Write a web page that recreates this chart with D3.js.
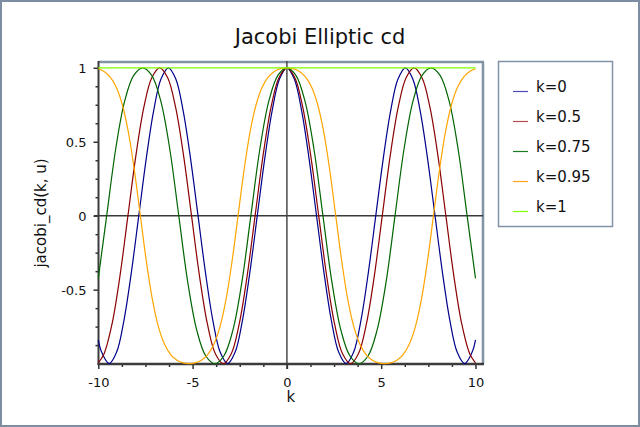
<!DOCTYPE html>
<html><head><meta charset="utf-8">
<script src="https://cdn.jsdelivr.net/npm/d3@7"></script>
<style>body{margin:0;background:#fff}svg{display:block}</style>
</head><body>
<svg id="c" width="640" height="427"></svg>
<script>
const title = "Jacobi Elliptic cd";
const xLabel = "k";
const yLabel = "jacobi_cd(k, u)";
const seriesNames = ["k=0", "k=0.5", "k=0.75", "k=0.95", "k=1"];
const seriesColors = ["#00008b", "#8b0000", "#006400", "#ffa500", "#7fff00"];
const legendColors = ["#4b4bb8", "#b84b4b", "#1e7a1e", "#ffa31a", "#80ff00"];
const xTickValues = [-10, -5, 0, 5, 10];
const xTickLabels = ["-10", "-5", "0", "5", "10"];
const xMinorTicks = [-8.75, -7.5, -6.25, -3.75, -2.5, -1.25, 1.25, 2.5, 3.75, 6.25, 7.5, 8.75];
const yTickValues = [-0.5, 0, 0.5, 1];
const yTickLabels = ["-0.5", "0", "0.5", "1"];
const yMinorTicks = [-0.875, -0.75, -0.625, -0.375, -0.25, -0.125, 0.125, 0.25, 0.375, 0.625, 0.75, 0.875];

// k = 0
const x0 = [-10, -9.8175, -9.4248, -9.0321, -8.6394, -8.2467, -7.854, -7.4613, -7.0686, -6.6759, -6.2832, -5.8905, -5.4978, -5.1051, -4.7124, -4.3197, -3.927, -3.5343, -3.1416, -2.7489, -2.3562, -1.9635, -1.5708, -1.1781, -0.7854, -0.3927, 0, 0.3927, 0.7854, 1.1781, 1.5708, 1.9635, 2.3562, 2.7489, 3.1416, 3.5343, 3.927, 4.3197, 4.7124, 5.1051, 5.4978, 5.8905, 6.2832, 6.6759, 7.0686, 7.4613, 7.854, 8.2467, 8.6394, 9.0321, 9.4248, 9.8175, 10];
const y0 = [-0.8391, -0.9239, -1, -0.9239, -0.7071, -0.3827, 0, 0.3827, 0.7071, 0.9239, 1, 0.9239, 0.7071, 0.3827, 0, -0.3827, -0.7071, -0.9239, -1, -0.9239, -0.7071, -0.3827, 0, 0.3827, 0.7071, 0.9239, 1, 0.9239, 0.7071, 0.3827, 0, -0.3827, -0.7071, -0.9239, -1, -0.9239, -0.7071, -0.3827, 0, 0.3827, 0.7071, 0.9239, 1, 0.9239, 0.7071, 0.3827, 0, -0.3827, -0.7071, -0.9239, -1, -0.9239, -0.8391];
// k = 0.5
const x05 = [-10, -9.6931, -9.2716, -8.8502, -8.4288, -8.0073, -7.5859, -7.1644, -6.743, -6.3216, -5.9001, -5.4787, -5.0573, -4.6358, -4.2144, -3.7929, -3.3715, -2.9501, -2.5286, -2.1072, -1.6858, -1.2643, -0.8429, -0.4214, 0, 0.4214, 0.8429, 1.2643, 1.6858, 2.1072, 2.5286, 2.9501, 3.3715, 3.7929, 4.2144, 4.6358, 5.0573, 5.4787, 5.9001, 6.3216, 6.743, 7.1644, 7.5859, 8.0073, 8.4288, 8.8502, 9.2716, 9.6931, 10];
const y05 = [-0.9951, -0.9332, -0.7321, -0.4063, 0, 0.4063, 0.7321, 0.9332, 1, 0.9332, 0.7321, 0.4063, 0, -0.4063, -0.7321, -0.9332, -1, -0.9332, -0.7321, -0.4063, 0, 0.4063, 0.7321, 0.9332, 1, 0.9332, 0.7321, 0.4063, 0, -0.4063, -0.7321, -0.9332, -1, -0.9332, -0.7321, -0.4063, 0, 0.4063, 0.7321, 0.9332, 1, 0.9332, 0.7321, 0.4063, 0, -0.4063, -0.7321, -0.9332, -0.9951];
// k = 0.75
const x075 = [-10, -9.5549, -9.0772, -8.5995, -8.1217, -7.644, -7.1662, -6.6885, -6.2107, -5.733, -5.2552, -4.7775, -4.2997, -3.822, -3.3442, -2.8665, -2.3887, -1.911, -1.4332, -0.9555, -0.4777, 0, 0.4777, 0.9555, 1.4332, 1.911, 2.3887, 2.8665, 3.3442, 3.822, 4.2997, 4.7775, 5.2552, 5.733, 6.2107, 6.6885, 7.1662, 7.644, 8.1217, 8.5995, 9.0772, 9.5549, 10];
const y075 = [-0.4234, 0, 0.4511, 0.7758, 0.9484, 1, 0.9484, 0.7758, 0.4511, 0, -0.4511, -0.7758, -0.9484, -1, -0.9484, -0.7758, -0.4511, 0, 0.4511, 0.7758, 0.9484, 1, 0.9484, 0.7758, 0.4511, 0, -0.4511, -0.7758, -0.9484, -1, -0.9484, -0.7758, -0.4511, 0, 0.4511, 0.7758, 0.9484, 1, 0.9484, 0.7758, 0.4511, 0, -0.4234];
// k = 0.95
const x095 = [-10, -9.7125, -9.3888, -9.065, -8.7413, -8.4175, -8.0938, -7.77, -7.4463, -7.1225, -6.7988, -6.475, -6.1513, -5.8275, -5.5038, -5.18, -4.8563, -4.5325, -4.2088, -3.885, -3.5613, -3.2375, -2.9138, -2.59, -2.2663, -1.9425, -1.6188, -1.295, -0.9713, -0.6475, -0.3238, 0, 0.3238, 0.6475, 0.9713, 1.295, 1.6188, 1.9425, 2.2663, 2.59, 2.9138, 3.2375, 3.5613, 3.885, 4.2088, 4.5325, 4.8563, 5.18, 5.5038, 5.8275, 6.1513, 6.475, 6.7988, 7.1225, 7.4463, 7.77, 8.0938, 8.4175, 8.7413, 9.065, 9.3888, 9.7125, 10];
const y095 = [0.9934, 0.977, 0.9403, 0.873, 0.7571, 0.5732, 0.3134, 0, -0.3134, -0.5732, -0.7571, -0.873, -0.9403, -0.977, -0.9947, -1, -0.9947, -0.977, -0.9403, -0.873, -0.7571, -0.5732, -0.3134, 0, 0.3134, 0.5732, 0.7571, 0.873, 0.9403, 0.977, 0.9947, 1, 0.9947, 0.977, 0.9403, 0.873, 0.7571, 0.5732, 0.3134, 0, -0.3134, -0.5732, -0.7571, -0.873, -0.9403, -0.977, -0.9947, -1, -0.9947, -0.977, -0.9403, -0.873, -0.7571, -0.5732, -0.3134, 0, 0.3134, 0.5732, 0.7571, 0.873, 0.9403, 0.977, 0.9934];
// k = 1
const x1 = [-10, 10];
const y1 = [1, 1];

const seriesX = [x0, x05, x075, x095, x1];
const seriesY = [y0, y05, y075, y095, y1];

const FONT = "Verdana, 'DejaVu Sans', sans-serif";
const svg = d3.select("#c");
const W = 640, H = 427;
const plot = {left: 98.5, right: 483, top: 62, bottom: 364};

const x = d3.scaleLinear().domain([-10, 10]).range([98.3, 475.5]);
const y = d3.scaleLinear().domain([-1, 1]).range([363.6, 67.8]);

svg.append("rect").attr("x", 0).attr("y", 0).attr("width", W).attr("height", H).attr("fill", "#fff");
svg.append("rect").attr("x", 1).attr("y", 1).attr("width", W - 2).attr("height", H - 2)
  .attr("fill", "none").attr("stroke", "#7d8ea3").attr("stroke-width", 2);

svg.append("text").attr("x", 320).attr("y", 44).attr("text-anchor", "middle")
  .attr("font-family", FONT).attr("font-size", 21).attr("fill", "#111").text(title);

// plot window frame (top & right)
svg.append("line").attr("x1", plot.left).attr("x2", plot.right + 1).attr("y1", plot.top).attr("y2", plot.top)
  .attr("stroke", "#8293a6").attr("stroke-width", 2.5);
svg.append("line").attr("x1", plot.right).attr("x2", plot.right).attr("y1", plot.top).attr("y2", plot.bottom)
  .attr("stroke", "#8293a6").attr("stroke-width", 2.5);

// zero lines
svg.append("line").attr("x1", 94).attr("x2", plot.right).attr("y1", y(0)).attr("y2", y(0))
  .attr("stroke", "#3a3a3a").attr("stroke-width", 1.5);
svg.append("line").attr("x1", x(0)).attr("x2", x(0)).attr("y1", plot.top - 1).attr("y2", plot.bottom + 5)
  .attr("stroke", "#4a4a4a").attr("stroke-width", 1.5);

// axes with d3
const gx = svg.append("g").attr("transform", `translate(0,${plot.bottom})`)
  .call(d3.axisBottom(x).tickValues(xTickValues).tickSize(5).tickPadding(6)
    .tickFormat((d, i) => xTickLabels[i]));
const gxm = svg.append("g").attr("transform", `translate(0,${plot.bottom})`)
  .call(d3.axisBottom(x).tickValues(xMinorTicks).tickSize(3).tickFormat(""));
const gy = svg.append("g").attr("transform", `translate(${plot.left},0)`)
  .call(d3.axisLeft(y).tickValues(yTickValues).tickSize(5).tickPadding(7)
    .tickFormat((d, i) => yTickLabels[i]));
const gym = svg.append("g").attr("transform", `translate(${plot.left},0)`)
  .call(d3.axisLeft(y).tickValues(yMinorTicks).tickSize(3).tickFormat(""));
[gx, gxm, gy, gym].forEach(g => {
  g.select(".domain").remove();
  g.selectAll(".tick line").attr("stroke", "#333").attr("stroke-width", 1.5);
  g.selectAll("text").attr("font-family", FONT).attr("font-size", 13).attr("fill", "#111");
});
gx.selectAll("text").attr("dy", "0.9em");
gy.selectAll("text").attr("dy", "0.36em");

// axis lines
svg.append("line").attr("x1", plot.left).attr("x2", plot.left).attr("y1", plot.top - 1).attr("y2", plot.bottom + 1)
  .attr("stroke", "#3c3c3c").attr("stroke-width", 2);
svg.append("line").attr("x1", plot.left - 1).attr("x2", plot.right + 1).attr("y1", plot.bottom).attr("y2", plot.bottom)
  .attr("stroke", "#3c3c3c").attr("stroke-width", 2.5);

// axis labels
svg.append("text").attr("x", (plot.left + plot.right) / 2).attr("y", 402).attr("text-anchor", "middle")
  .attr("font-family", FONT).attr("font-size", 15).attr("fill", "#111").text(xLabel);
svg.append("text").attr("transform", `translate(46,${(plot.top + plot.bottom) / 2}) rotate(-90)`)
  .attr("text-anchor", "middle").attr("font-family", FONT).attr("font-size", 15).attr("fill", "#111").text(yLabel);

// curves
const line = d3.line().x(d => x(d[0])).y(d => y(d[1])).curve(d3.curveCatmullRom);
seriesX.forEach((xs, i) => {
  const pts = xs.map((v, j) => [v, seriesY[i][j]]);
  svg.append("path").attr("d", line(pts)).attr("fill", "none")
    .attr("stroke", seriesColors[i]).attr("stroke-width", 1.2);
});

// legend
const lg = svg.append("g");
lg.append("rect").attr("x", 498.5).attr("y", 61.5).attr("width", 114).attr("height", 165)
  .attr("fill", "#fff").attr("stroke", "#8293a6").attr("stroke-width", 1.5);
seriesNames.forEach((name, i) => {
  const ly = 91.5 + 30 * i;
  lg.append("line").attr("x1", 513).attr("x2", 528).attr("y1", ly).attr("y2", ly)
    .attr("stroke", legendColors[i]).attr("stroke-width", 1.2);
  lg.append("text").attr("x", 536).attr("y", ly).attr("font-family", FONT).attr("font-size", 15)
    .attr("fill", "#111").text(name);
});
</script>
</body></html>
